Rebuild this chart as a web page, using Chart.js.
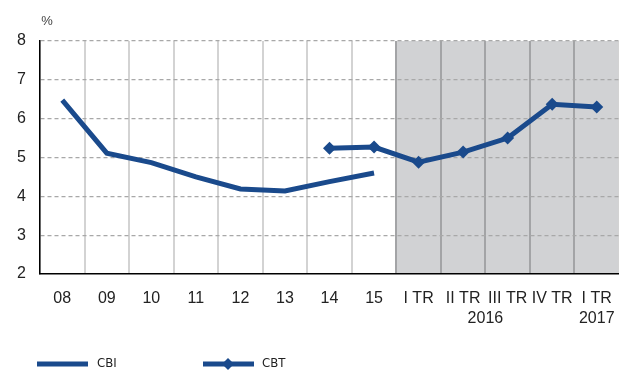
<!DOCTYPE html>
<html>
<head>
<meta charset="utf-8">
<script src="https://cdn.jsdelivr.net/npm/chart.js@4.4.1/dist/chart.umd.min.js"></script>
<style>
  html, body { margin: 0; padding: 0; background: #fff; }
  #wrap { width: 619px; height: 370px; position: relative; }
</style>
</head>
<body>
<div id="wrap"><canvas id="lineChart" width="619" height="370"></canvas></div>
<script>
const categories = ["08", "09", "10", "11", "12", "13", "14", "15", "I TR", "II TR", "III TR", "IV TR", "I TR"];
const cbiValues = [6.48, 5.11, 4.87, 4.5, 4.19, 4.14, 4.38, 4.6, null, null, null, null, null];
const cbtValues = [null, null, null, null, null, null, 5.24, 5.27, 4.88, 5.14, 5.5, 6.37, 6.3];
const yTicks = [2, 3, 4, 5, 6, 7, 8];
// year captions: [text, first category index, last category index]
const yearLabels = [["2016", 8, 11], ["2017", 12, 12]];
const shadeFrom = 8;

const blue = "#1a4a8c";
const textColor = "#222";
const tickFont = "'Liberation Sans', Arial, sans-serif";

// grey panel behind the quarterly part of the chart
const shadePlugin = {
  id: "shade",
  beforeDraw(chart) {
    const { ctx, chartArea, scales } = chart;
    const x0 = scales.x.getPixelForValue(shadeFrom - 0.5);
    ctx.save();
    ctx.fillStyle = "#d1d2d4";
    ctx.fillRect(x0, chartArea.top, chartArea.right - x0, chartArea.bottom - chartArea.top);
    ctx.restore();
  },
};

// years under the quarters, "%" unit and the legend row
const extrasPlugin = {
  id: "extras",
  afterDraw(chart) {
    const { ctx, chartArea, scales } = chart;
    ctx.save();
    ctx.fillStyle = textColor;
    ctx.font = "16px " + tickFont;
    ctx.textAlign = "center";
    ctx.textBaseline = "middle";
    yearLabels.forEach(([txt, a, b]) => {
      const x = (scales.x.getPixelForValue(a) + scales.x.getPixelForValue(b)) / 2;
      ctx.fillText(txt, x, chartArea.bottom + 45);
    });

    ctx.font = "13px " + tickFont;
    ctx.fillStyle = "#444";
    ctx.fillText("%", chartArea.left + 7, chartArea.top - 20);

    // legend
    const ly = 364;
    ctx.strokeStyle = blue;
    ctx.lineWidth = 5;
    ctx.beginPath();
    ctx.moveTo(37, ly);
    ctx.lineTo(88, ly);
    ctx.moveTo(203, ly);
    ctx.lineTo(254, ly);
    ctx.stroke();
    ctx.fillStyle = blue;
    ctx.beginPath();
    ctx.moveTo(228, ly - 6);
    ctx.lineTo(234, ly);
    ctx.lineTo(228, ly + 6);
    ctx.lineTo(222, ly);
    ctx.closePath();
    ctx.fill();
    ctx.fillStyle = textColor;
    ctx.textAlign = "left";
    ctx.font = "13px 'Liberation Sans Narrow', 'DejaVu Sans Condensed', sans-serif";
    ctx.fillText("CBI", 97, ly);
    ctx.fillText("CBT", 262, ly);
    ctx.restore();
  },
};

new Chart(document.getElementById("lineChart").getContext("2d"), {
  type: "line",
  data: {
    labels: categories,
    datasets: [
      {
        label: "CBI",
        data: cbiValues,
        borderColor: blue,
        backgroundColor: blue,
        borderWidth: 5,
        pointRadius: 0,
        tension: 0,
        spanGaps: false,
      },
      {
        label: "CBT",
        data: cbtValues,
        borderColor: blue,
        backgroundColor: blue,
        borderWidth: 5,
        pointStyle: "rectRot",
        pointRadius: 6.5,
        pointBorderWidth: 0,
        pointBackgroundColor: blue,
        tension: 0,
      },
    ],
  },
  options: {
    responsive: false,
    animation: false,
    layout: {
      autoPadding: false,
      padding: { top: 41, right: 0, left: 0, bottom: 0 },
    },
    plugins: {
      legend: { display: false },
      tooltip: { enabled: false },
    },
    scales: {
      x: {
        offset: true,
        afterFit(scale) {
          scale.height = 96;
          scale.paddingLeft = 0;
          scale.paddingRight = 0;
        },
        grid: {
          offset: true,
          drawTicks: false,
          lineWidth: 2,
          color: (c) => (c.index >= shadeFrom ? "#a3a4a6" : "#d3d3d3"),
        },
        border: { color: "#000", width: 1.5 },
        ticks: {
          color: textColor,
          font: { size: 16, family: tickFont },
          padding: 15,
          maxRotation: 0,
          autoSkip: false,
        },
      },
      y: {
        min: 2,
        max: 8,
        afterFit(scale) {
          scale.width = 40;
          scale.paddingTop = 0;
          scale.paddingBottom = 0;
        },
        afterBuildTicks(scale) { scale.ticks = yTicks.map((v) => ({ value: v })); },
        grid: {
          drawTicks: false,
          color: (c) => (c.tick.value === 2 ? "rgba(0,0,0,0)" : "#a8a8a8"),
          lineWidth: 1.2,
        },
        border: { color: "#000", width: 1.5, dash: [4, 3] },
        ticks: {
          color: textColor,
          font: { size: 16, family: tickFont },
          padding: 14,
        },
      },
    },
  },
  plugins: [shadePlugin, extrasPlugin],
});
</script>
</body>
</html>
